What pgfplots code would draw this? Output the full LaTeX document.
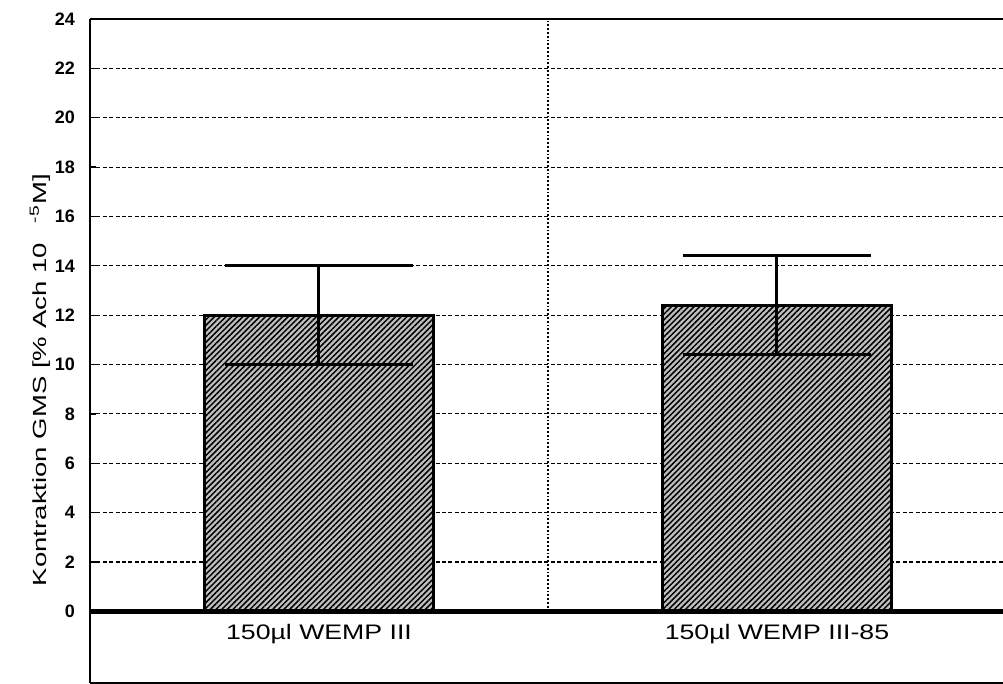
\documentclass[border=0pt]{standalone}
\usepackage{fontspec}
\setmainfont{Liberation Sans}
\usepackage{pgfplots}
\pgfplotsset{compat=1.18}
\usetikzlibrary{patterns.meta}
\begin{document}
\begin{tikzpicture}
\begin{axis}[
    scale only axis,
    width=458pt, height=332pt,
    xmin=-0.5, xmax=1.5,
    ymin=-2.9, ymax=24,
    axis x line*=box,
    axis y line*=left,
    axis line style={-, line width=1.4pt},
    xtick=\empty,
    ytick={0,2,...,24},
    yticklabel style={font=\fontsize{9}{10}\selectfont\bfseries, xshift=-4pt},
    /pgf/number format/assume math mode=true,
    tick style={black, line width=0.6pt},
    major tick length=3pt,
    ymajorgrids=true,
    grid style={black, line width=0.55pt, dash pattern=on 2pt off 1.2pt},
    ylabel={Kontraktion GMS [\% Ach 10\hspace{10pt}\textsuperscript{-5}M]},
    ylabel style={at={(axis description cs:-0.0546,0.456)}, anchor=center,
        font=\fontsize{9.5}{10}\selectfont\addfontfeatures{FakeStretch=1.45}},
]
\addplot[ybar, bar width=0.5, draw=black, line width=1.5pt, fill=gray!50,
    postaction={pattern={Lines[angle=45, distance=2pt, line width=0.75pt]}},
    error bars/.cd, y dir=both, y explicit,
    error bar style={line width=1.5pt, black},
    error mark options={rotate=90, mark size=47pt, line width=1.5pt, black}]
    coordinates {(0,12) +- (0,2) (1,12.4) +- (0,2)};
\draw[line width=0.9pt, densely dotted] (axis cs:0.5,0) -- (axis cs:0.5,24);
\draw[line width=2.6pt] (axis cs:-0.5,0) -- (axis cs:1.5,0);
\node[font=\fontsize{10.5}{12}\selectfont\addfontfeatures{FakeStretch=1.27}] at (axis cs:0,-0.93) {150µl WEMP III};
\node[font=\fontsize{10.5}{12}\selectfont\addfontfeatures{FakeStretch=1.27}] at (axis cs:1,-0.93) {150µl WEMP III-85};
\end{axis}
\pgfresetboundingbox
\path (-45pt,-0.5pt) rectangle (456.5pt,341.5pt);
\end{tikzpicture}
\end{document}
